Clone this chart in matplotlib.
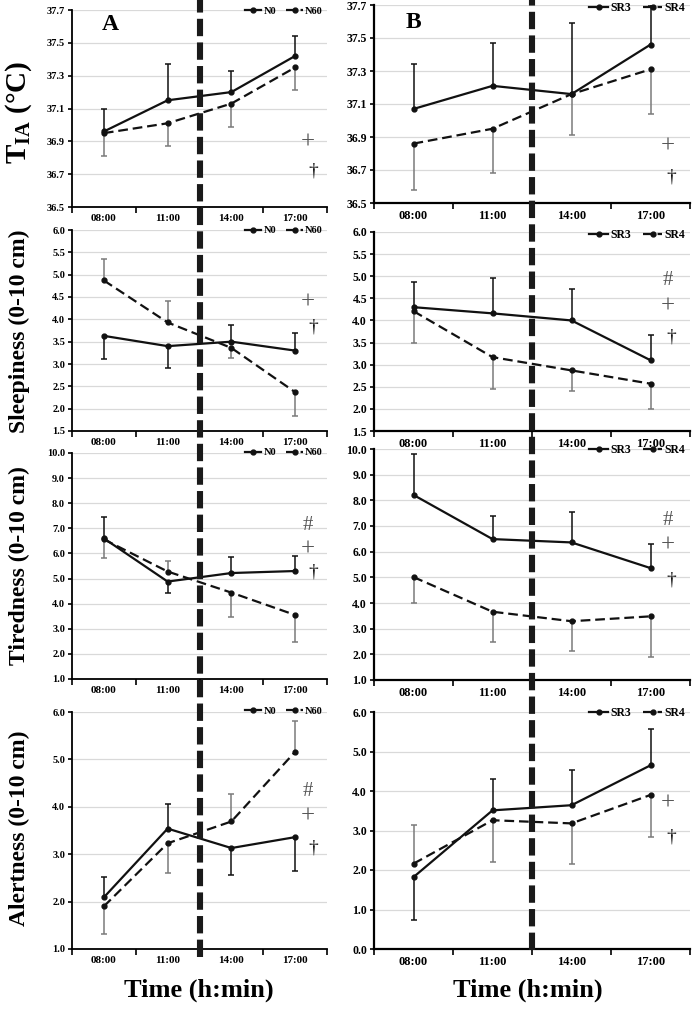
import numpy as np
import matplotlib
matplotlib.use('Agg')
import matplotlib.pyplot as plt
from matplotlib.lines import Line2D
import matplotlib.transforms as mtrans

plt.rcParams['font.family'] = ['Liberation Serif', 'DejaVu Serif']
plt.rcParams['font.weight'] = 'bold'
plt.rcParams['mathtext.fontset'] = 'custom'
plt.rcParams['mathtext.rm'] = 'Liberation Serif:bold'
plt.rcParams['mathtext.bf'] = 'Liberation Serif:bold'
plt.rcParams['lines.scale_dashes'] = False

# время измерений
hours = ['08:00', '11:00', '14:00', '17:00']

# температура T_IA
tia_n0 = [36.96, 37.15, 37.20, 37.42]
tia_n0_err = [37.10, 37.37, 37.33, 37.54]
tia_n60 = [36.95, 37.01, 37.13, 37.35]
tia_n60_err = [36.81, 36.87, 36.99, 37.21]
tia_sr3 = [37.07, 37.21, 37.16, 37.46]
tia_sr3_err = [37.34, 37.47, 37.59, 37.70]
tia_sr4 = [36.86, 36.95, 37.16, 37.31]
tia_sr4_err = [36.58, 36.68, 36.91, 37.04]

# сонливость
sleep_n0 = [3.63, 3.40, 3.50, 3.30]
sleep_n0_err = [3.11, 2.91, 3.88, 3.70]
sleep_n60 = [4.87, 3.93, 3.36, 2.37]
sleep_n60_err = [5.35, 4.41, 3.14, 1.83]
sleep_sr3 = [4.30, 4.16, 4.00, 3.10]
sleep_sr3_err = [4.88, 4.97, 4.70, 3.66]
sleep_sr4 = [4.21, 3.17, 2.87, 2.57]
sleep_sr4_err = [3.49, 2.46, 2.40, 1.99]

# усталость
tired_n0 = [6.60, 4.88, 5.22, 5.30]
tired_n0_err = [7.44, 4.44, 5.87, 5.90]
tired_n60 = [6.56, 5.28, 4.44, 3.55]
tired_n60_err = [5.81, 5.71, 3.48, 2.49]
tired_sr3 = [8.21, 6.49, 6.36, 5.36]
tired_sr3_err = [9.80, 7.40, 7.53, 6.29]
tired_sr4 = [5.01, 3.66, 3.29, 3.48]
tired_sr4_err = [4.00, 2.47, 2.13, 1.91]

# бодрость
alert_n0 = [2.09, 3.54, 3.13, 3.36]
alert_n0_err = [2.51, 4.06, 2.56, 2.64]
alert_n60 = [1.90, 3.23, 3.69, 5.16]
alert_n60_err = [1.32, 2.60, 4.26, 5.82]
alert_sr3 = [1.82, 3.51, 3.64, 4.65]
alert_sr3_err = [0.74, 4.30, 4.53, 5.57]
alert_sr4 = [2.16, 3.26, 3.18, 3.90]
alert_sr4_err = [3.15, 2.20, 2.16, 2.84]

# значки значимости
sig_tia_a = [('+', 36.89), ('†', 36.72)]
sig_tia_b = [('+', 36.84), ('†', 36.66)]
sig_sleep_a = [('+', 4.37), ('†', 3.82)]
sig_sleep_b = [('#', 4.90), ('+', 4.31), ('†', 3.62)]
sig_tired_a = [('#', 7.13), ('+', 6.17), ('†', 5.28)]
sig_tired_b = [('#', 7.23), ('+', 6.25), ('†', 4.90)]
sig_alert_a = [('#', 4.32), ('+', 3.79), ('†', 3.13)]
sig_alert_b = [('+', 3.69), ('†', 2.84)]

W, H = 698, 1015
fig = plt.figure(figsize=(W / 100, H / 100), dpi=100)


def box(x0, x1, y0, y1):
    return [x0 / W, 1 - y1 / H, (x1 - x0) / W, (y1 - y0) / H]


def panel(pos, s1, e1, s2, e2, names, ylim, step, sig, right):
    ax = fig.add_axes(pos)
    x = np.arange(len(hours)) + 0.5
    ax.set_xlim(0, 4)
    ax.set_ylim(*ylim)
    ax.set_yticks(np.arange(ylim[0], ylim[1] + step / 2, step))
    ax.yaxis.set_major_formatter(matplotlib.ticker.FormatStrFormatter('%.1f'))
    ax.set_xticks([0, 1, 2, 3, 4])
    ax.set_xticklabels([])
    ax.set_xticks(x, minor=True)
    ax.set_xticklabels(hours, minor=True)
    fs = 9 if right else 8
    ax.tick_params(axis='x', which='minor', length=0, pad=5, labelsize=fs)
    ax.tick_params(axis='x', which='major', length=4, width=1.2)
    ax.tick_params(axis='y', length=3, width=1.2, labelsize=fs - 0.5, pad=2)
    ax.yaxis.grid(True, color='#d9d9d9', lw=0.9)
    ax.set_axisbelow(True)
    for s in ['top', 'right']:
        ax.spines[s].set_visible(False)
    for s in ['left', 'bottom']:
        ax.spines[s].set_linewidth(1.6 if right else 1.3)
    # планки погрешностей
    ax.vlines(x, s1, e1, color='#111111', lw=1.1, zorder=2)
    ax.plot(x, e1, ls='none', marker='_', ms=5, mew=1.1, color='#111111', zorder=2)
    ax.vlines(x, s2, e2, color='#7a7a7a', lw=1.1, zorder=2)
    ax.plot(x, e2, ls='none', marker='_', ms=5, mew=1.1, color='#7a7a7a', zorder=2)
    ax.plot(x, s1, color='#111111', lw=1.6, marker='o', ms=3.5, label=names[0], zorder=3)
    ax.plot(x, s2, color='#111111', lw=1.6, dashes=(7, 3.5), marker='o', ms=3.5,
            label=names[1], zorder=3)
    ax.legend(loc='upper right', bbox_to_anchor=(1.0, 1.04), ncol=2, frameon=False,
              fontsize=8.5 if right else 7.5, handlelength=1.6, handletextpad=0.2,
              columnspacing=1.0, borderaxespad=0)
    tr = mtrans.blended_transform_factory(ax.transAxes, ax.transData)
    for sym, yv in sig:
        if sym == '†':
            ax.text(0.945 if not right else 0.94, yv, sym, transform=tr, ha='center',
                    va='center', fontsize=14, fontweight='normal', color='#111111')
        else:
            ax.text(0.925 if not right else 0.93, yv, sym, transform=tr, ha='center',
                    va='center', fontsize=18 if sym == '+' else 15, fontweight='normal',
                    color='#555555')
    return ax


lx0, lx1 = 72, 327
rx0, rx1 = 374, 690

a1 = panel(box(lx0, lx1, 10, 207), tia_n0, tia_n0_err, tia_n60, tia_n60_err,
           ['N0', 'N60'], (36.5, 37.7), 0.2, sig_tia_a, False)
b1 = panel(box(rx0, rx1, 5, 203), tia_sr3, tia_sr3_err, tia_sr4, tia_sr4_err,
           ['SR3', 'SR4'], (36.5, 37.7), 0.2, sig_tia_b, True)
a2 = panel(box(lx0, lx1, 230, 431), sleep_n0, sleep_n0_err, sleep_n60, sleep_n60_err,
           ['N0', 'N60'], (1.5, 6.0), 0.5, sig_sleep_a, False)
b2 = panel(box(rx0, rx1, 232, 431), sleep_sr3, sleep_sr3_err, sleep_sr4, sleep_sr4_err,
           ['SR3', 'SR4'], (1.5, 6.0), 0.5, sig_sleep_b, True)
a3 = panel(box(lx0, lx1, 453, 679), tired_n0, tired_n0_err, tired_n60, tired_n60_err,
           ['N0', 'N60'], (1.0, 10.0), 1.0, sig_tired_a, False)
b3 = panel(box(rx0, rx1, 449, 680), tired_sr3, tired_sr3_err, tired_sr4, tired_sr4_err,
           ['SR3', 'SR4'], (1.0, 10.0), 1.0, sig_tired_b, True)
a4 = panel(box(lx0, lx1, 712, 949), alert_n0, alert_n0_err, alert_n60, alert_n60_err,
           ['N0', 'N60'], (1.0, 6.0), 1.0, sig_alert_a, False)
b4 = panel(box(rx0, rx1, 712, 949), alert_sr3, alert_sr3_err, alert_sr4, alert_sr4_err,
           ['SR3', 'SR4'], (0.0, 6.0), 1.0, sig_alert_b, True)

a1.text(110 / W, 1 - 25 / H, 'A', transform=fig.transFigure, ha='center', va='center',
        fontsize=17, fontweight='bold')
b1.text(413 / W, 1 - 22 / H, 'B', transform=fig.transFigure, ha='center', va='center',
        fontsize=17, fontweight='bold')

# подписи осей
ylabs = [(r'T$_{\mathregular{IA}}$ (°C)', 112, 21),
         ('Sleepiness (0-10 cm)', 331, 17),
         ('Tiredness (0-10 cm)', 566, 17),
         ('Alertness (0-10 cm)', 828, 17)]
for txt, yc, fsz in ylabs:
    fig.text(19 / W, 1 - yc / H, txt, rotation=90, ha='center', va='center',
             fontsize=fsz, fontweight='bold')
fig.text(199 / W, 1 - 990 / H, 'Time (h:min)', ha='center', va='center',
         fontsize=19, fontweight='bold')
fig.text(528 / W, 1 - 990 / H, 'Time (h:min)', ha='center', va='center',
         fontsize=19, fontweight='bold')

# пунктирная вертикаль через все панели
for xc, yb in [((lx0 + lx1) / 2, 957), ((rx0 + rx1) / 2, 950)]:
    ln = Line2D([xc / W, xc / W], [1 - yb / H, 1.0], transform=fig.transFigure,
                color='#1a1a1a', lw=4.4, zorder=10)
    ln.set_dashes((12.5, 4.5))
    fig.add_artist(ln)

fig.savefig('out.png', dpi=100)
